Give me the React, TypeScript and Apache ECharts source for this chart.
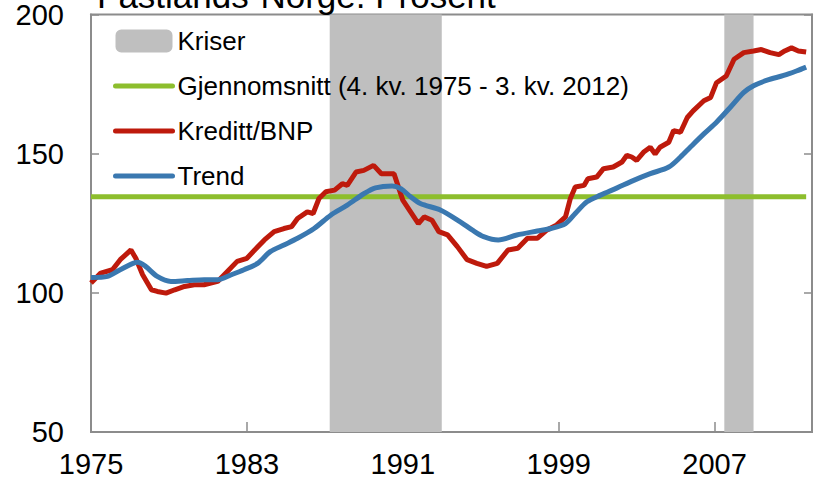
import React, { useEffect, useRef } from "react";
import * as echarts from "echarts";

const xTickYears = [1975, 1983, 1991, 1999, 2007];
const yTicks = [50, 100, 150, 200];

const creditYears = [
  1975.0, 1975.5, 1976.1, 1976.5, 1977.05, 1977.3, 1977.65, 1978.1, 1978.4, 1978.85,
  1979.3, 1979.8, 1980.3, 1980.8, 1981.15, 1981.5, 1982.0, 1982.5, 1983.0, 1983.4,
  1983.9, 1984.4, 1984.9, 1985.3, 1985.6, 1986.1, 1986.4, 1986.7, 1987.05, 1987.5,
  1987.9, 1988.15, 1988.6, 1989.0, 1989.5, 1989.9, 1990.55, 1991.0, 1991.4, 1991.8,
  1992.1, 1992.5, 1992.85, 1993.3, 1993.8, 1994.3, 1994.8, 1995.3, 1995.85, 1996.4,
  1996.9, 1997.4, 1997.9, 1998.4, 1998.9, 1999.35, 1999.6, 1999.85, 2000.3, 2000.5,
  2000.95, 2001.3, 2001.8, 2002.25, 2002.5, 2002.75, 2003.0, 2003.35, 2003.7, 2003.95,
  2004.2, 2004.65, 2004.9, 2005.25, 2005.6, 2005.9, 2006.45, 2006.8, 2007.1, 2007.6,
  2008.0, 2008.5, 2009.0, 2009.4, 2009.85, 2010.3, 2010.6, 2010.95, 2011.3, 2011.7,
];
const creditValues = [
  103.5, 107.1, 108.3, 111.9, 115.4, 112.4, 106.5, 101.1, 100.5, 99.9,
  101.1, 102.3, 102.9, 102.9, 103.5, 104.1, 107.7, 111.3, 112.4, 115.4,
  119.0, 122.0, 123.1, 123.8, 126.7, 129.1, 128.5, 133.9, 136.3, 136.9,
  139.2, 138.6, 143.4, 144.0, 145.8, 142.8, 142.8, 133.3, 129.1, 124.9,
  127.3, 126.1, 122.0, 120.8, 116.6, 111.9, 110.6, 109.5, 110.6, 115.4,
  116.0, 119.6, 119.6, 122.6, 124.4, 127.3, 133.9, 138.0, 138.6, 141.0,
  141.6, 144.6, 145.2, 147.0, 149.4, 148.8, 147.6, 150.5, 152.3, 149.9,
  152.3, 154.1, 158.3, 157.7, 163.0, 165.4, 169.0, 170.2, 175.5, 177.9,
  183.9, 186.3, 186.9, 187.4, 186.3, 185.6, 186.9, 188.0, 186.9, 186.5,
];

const trendYears = [
  1975.0, 1975.85, 1976.5, 1977.4, 1977.8, 1978.4, 1979.1, 1979.95, 1980.8, 1981.5,
  1982.2, 1982.85, 1983.55, 1984.2, 1984.9, 1985.6, 1986.45, 1987.3, 1988.15, 1989.0,
  1989.6, 1990.45, 1990.9, 1991.4, 1991.9, 1992.95, 1993.95, 1994.6, 1995.15, 1995.9,
  1996.85, 1997.9, 1998.6, 1999.35, 1999.85, 2000.45, 2001.15, 2002.0, 2002.85, 2003.7,
  2004.65, 2005.25, 2005.75, 2006.45, 2007.1, 2007.8, 2008.5, 2009.0, 2009.7, 2010.55,
  2011.2, 2011.7,
];
const trendValues = [
  105.5, 105.9, 108.3, 111.0, 109.5, 105.9, 104.1, 104.4, 104.7, 104.7,
  106.5, 108.3, 110.6, 114.8, 117.2, 119.6, 123.1, 127.9, 131.5, 135.6,
  137.7, 138.4, 137.4, 134.5, 132.1, 129.7, 125.5, 122.4, 120.2, 119.0,
  120.8, 122.2, 123.1, 124.9, 128.5, 132.7, 135.1, 137.7, 140.4, 142.8,
  145.2, 148.8, 152.3, 157.1, 161.3, 166.6, 172.0, 174.4, 176.4, 178.1,
  179.7, 181.1,
];

const meanValue = 134.5;
const meanYears = [1975.0, 2011.7];

const crisisStarts = [1987.25, 2007.5];
const crisisEnds = [1993.0, 2009.0];

const titleText = "Fastlands-Norge. Prosent";
const names = ["Kriser", "Gjennomsnitt (4. kv. 1975 - 3. kv. 2012)", "Kreditt/BNP", "Trend"];

const FONT = "'Liberation Sans', Arial, sans-serif";
const AXIS_COLOR = "#8c8c8c";
const GREEN = "#8DBE2D";
const RED = "#BE1A0C";
const BLUE = "#3A78B0";

export default function App() {
  const ref = useRef<HTMLDivElement>(null);
  useEffect(() => {
    document.body.style.margin = "0";
    if (!ref.current) return;
    const chart = echarts.init(ref.current, null, { renderer: "svg" });
    const pairs = (xs: number[], ys: number[]) => xs.map((x, i) => [x, ys[i]]);
    const lineLegend = (name: string, color: string) => ({
      name,
      itemStyle: { opacity: 0 },
      lineStyle: { width: 5, color, cap: "round" },
    });
    const option: any = {
      animation: false,
      textStyle: { fontFamily: FONT },
      grid: {
        left: 91,
        right: 3,
        top: 11.5,
        bottom: 50,
        show: true,
        borderColor: AXIS_COLOR,
        borderWidth: 2,
        backgroundColor: "transparent",
      },
      graphic: [
        {
          type: "text",
          x: 97,
          y: -4.5,
          z: 100,
          style: {
            text: titleText,
            fontSize: 35,
            fontFamily: FONT,
            fill: "#000",
            verticalAlign: "middle",
          },
        },
      ],
      legend: {
        orient: "vertical",
        left: 113,
        top: 28,
        itemGap: 19,
        itemWidth: 57,
        itemHeight: 23,
        padding: 0,
        textStyle: { fontSize: 26, color: "#000", fontFamily: FONT },
        data: [
          { name: names[0], icon: "roundRect", itemStyle: { color: "#BFBFBF" } },
          lineLegend(names[1], GREEN),
          lineLegend(names[2], RED),
          lineLegend(names[3], BLUE),
        ],
      },
      xAxis: {
        type: "value",
        min: 1975,
        max: 2012,
        interval: 8,
        splitLine: { show: false },
        axisLine: { lineStyle: { color: AXIS_COLOR, width: 2 } },
        axisTick: { inside: true, length: 10, lineStyle: { color: AXIS_COLOR, width: 1.5 } },
        axisLabel: {
          fontSize: 29,
          color: "#000",
          fontFamily: FONT,
          margin: 17,
          showMaxLabel: false,
          formatter: (v: number) => (xTickYears.includes(v) ? String(v) : ""),
        },
      },
      yAxis: [
        {
          type: "value",
          min: 50,
          max: 200,
          interval: 50,
          splitLine: { show: false },
          axisLine: { show: true, lineStyle: { color: AXIS_COLOR, width: 2 } },
          axisTick: { show: true, inside: true, length: 8, lineStyle: { color: AXIS_COLOR, width: 1.5 } },
          axisLabel: {
            fontSize: 29,
            color: "#000",
            fontFamily: FONT,
            margin: 27,
            formatter: (v: number) => (yTicks.includes(v) ? String(v) : ""),
          },
        },
        {
          type: "value",
          position: "right",
          min: 50,
          max: 200,
          interval: 50,
          splitLine: { show: false },
          axisLine: { show: true, lineStyle: { color: AXIS_COLOR, width: 2 } },
          axisTick: { show: true, inside: true, length: 8, lineStyle: { color: AXIS_COLOR, width: 1.5 } },
          axisLabel: { show: false },
        },
      ],
      series: [
        {
          name: names[0],
          type: "line",
          color: "#BFBFBF",
          data: [],
          z: 1,
          markArea: {
            silent: true,
            itemStyle: { color: "#BFBFBF" },
            data: crisisStarts.map((s, i) => [{ xAxis: s }, { xAxis: crisisEnds[i] }]),
          },
        },
        {
          name: names[1],
          type: "line",
          color: GREEN,
          symbol: "none",
          lineStyle: { width: 5, color: GREEN },
          data: meanYears.map((x) => [x, meanValue]),
          z: 2,
        },
        {
          name: names[2],
          type: "line",
          color: RED,
          symbol: "none",
          lineStyle: { width: 5, color: RED },
          data: pairs(creditYears, creditValues),
          z: 3,
        },
        {
          name: names[3],
          type: "line",
          color: BLUE,
          symbol: "none",
          smooth: 0.3,
          lineStyle: { width: 5, color: BLUE },
          data: pairs(trendYears, trendValues),
          z: 4,
        },
      ],
    };
    chart.setOption(option);
    return () => chart.dispose();
  }, []);
  return <div ref={ref} style={{ width: 815, height: 482 }} />;
}
